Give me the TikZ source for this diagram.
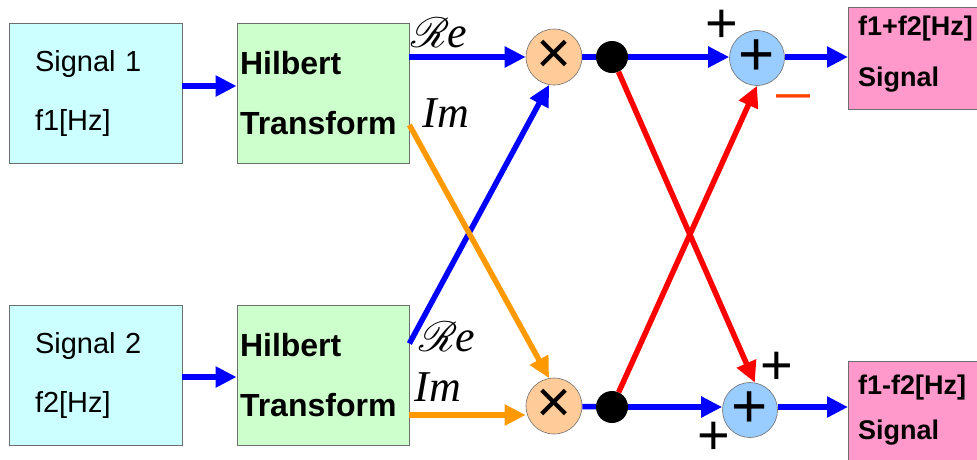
\documentclass[tikz,border=0pt]{standalone}
\usepackage{fontspec}
\usepackage{mathrsfs}
\usetikzlibrary{arrows.meta}
\setmainfont{Liberation Sans}
\newfontfamily\timesfont{Liberation Serif}

\definecolor{sigcyan}{RGB}{204,255,255}
\definecolor{hilgreen}{RGB}{204,255,204}
\definecolor{outpink}{RGB}{255,153,204}
\definecolor{mulorange}{RGB}{255,204,153}
\definecolor{addblue}{RGB}{153,204,255}
\definecolor{wireorange}{RGB}{255,153,0}
\definecolor{minusred}{RGB}{255,64,0}
\definecolor{edgegray}{RGB}{110,110,110}

\tikzset{
  sigbox/.style={draw=edgegray, line width=0.8pt, fill=sigcyan, minimum width=173pt, minimum height=140pt,
    text width=121pt, inner xsep=26pt, align=left, font=\fontsize{29}{59}\selectfont},
  hilbox/.style={draw=edgegray, line width=0.8pt, fill=hilgreen, minimum width=172pt, minimum height=140pt,
    text width=166pt, inner xsep=3pt, align=left, font=\bfseries\fontsize{32}{60}\selectfont},
  outbox/.style={draw=edgegray, line width=0.8pt, fill=outpink, minimum width=160pt, anchor=north west},
  outtext/.style={inner sep=0pt, anchor=north west, align=left},
  mulnode/.style={circle, draw=edgegray, line width=0.6pt, fill=mulorange, minimum size=56pt, inner sep=0pt,
    font=\fontsize{60}{60}\selectfont},
  addnode/.style={circle, draw=edgegray, line width=0.6pt, fill=addblue, minimum size=55pt, inner sep=0pt,
    font=\fontsize{62}{62}\selectfont},
  dotnode/.style={circle, fill=black, minimum size=32pt, inner sep=0pt},
  wire/.style={line width=5.5pt},
  sig/.style={wire, -{Triangle[length=21pt,width=20pt]}},
  partlabel/.style={inner sep=0pt, font=\timesfont\itshape\fontsize{44}{44}\selectfont},
  signlabel/.style={inner sep=2pt, font=\fontsize{56}{56}\selectfont}
}

\begin{document}
\begin{tikzpicture}[x=1pt, y=-1pt]
  \useasboundingbox (0,0) rectangle (977,459);
  % input signals and Hilbert transforms
  \foreach \i/\y/\dy in {1/93/7, 2/375.5/-1.5} {
    \node[sigbox] (s\i) at (95.5,\y) {Signal \i\\f\i[Hz]};
    \node[hilbox] (h\i) at (323,\y) {Hilbert\\Transform};
    \draw[sig, blue] ([yshift=\dy pt]s\i.east) -- ([yshift=\dy pt]h\i.west);
  }
  % multipliers, branch points, adders
  \node[mulnode] (m1) at (554,57) {×};
  \node[mulnode] (m2) at (554,406) {×};
  \node[dotnode] (d1) at (612,57) {};
  \node[dotnode] (d2) at (612,407) {};
  \node[addnode] (a1) at (757,58) {+};
  \node[addnode] (a2) at (750,410) {+};
  % outputs
  \node[outbox, minimum height=102pt] (o1) at (848,7) {};
  \node[outtext, font=\bfseries\fontsize{27}{51}\selectfont] (o1txt) at ([xshift=10pt, yshift=-9pt]o1.north west) {f1+f2[Hz]\\Signal};
  \node[outbox, minimum height=110pt] (o2) at (848,361) {};
  \node[outtext, font=\bfseries\fontsize{27}{45}\selectfont] (o2txt) at ([xshift=10pt, yshift=-14pt]o2.north west) {f1-f2[Hz]\\Signal};
  % Re / Im labels
  \node[partlabel] (re1) at (439,33) {{\fontsize{24}{24}\selectfont\scalebox{1.7}{$\mathscr{R}$}}\kern-2pt e};
  \node[partlabel] (im1) at (446,113) {Im};
  \node[partlabel] (re2) at (447,337) {{\fontsize{24}{24}\selectfont\scalebox{1.7}{$\mathscr{R}$}}\kern-2pt e};
  \node[partlabel] (im2) at (438,387) {Im};
  % signs at the adders
  \node[signlabel] (p1) at (722,26) {+};
  \node[inner sep=0pt, text=minusred, font=\bfseries\fontsize{34}{34}\selectfont] (n1) at (793,100) {—};
  \node[signlabel] (p2) at (777,368) {+};
  \node[signlabel] (p3) at (714,438) {+};
  % top row
  \coordinate (h1re) at (h1.east |- m1);
  \draw[sig, blue] (h1re) -- (m1.west);
  \draw[wire, blue] (m1) -- (d1);
  \draw[sig, blue] (d1) -- (d1 -| a1.west);
  \draw[sig, blue] (d1 -| a1.east) -- (d1 -| o1.west);
  % bottom row
  \coordinate (h2im) at ([yshift=-39.5pt]h2.east);
  \draw[sig, wireorange] (h2im) -- (h2im -| m2.west);
  \draw[wire, blue] (m2) -- (d2);
  \draw[sig, blue] (d2) -- (d2 -| a2.west);
  \draw[sig, blue] (d2 -| a2.east) -- (d2 -| o2.west);
  % crossing paths
  \draw[sig, blue] ([yshift=32pt]h2.east) -- (m1.260);
  \draw[sig, wireorange] ([yshift=-32pt]h1.east) -- (m2.100);
  \draw[sig, red] (d1) -- (a2.80);
  \draw[sig, red] (d2) -- (a1.south);
\end{tikzpicture}
\end{document}
